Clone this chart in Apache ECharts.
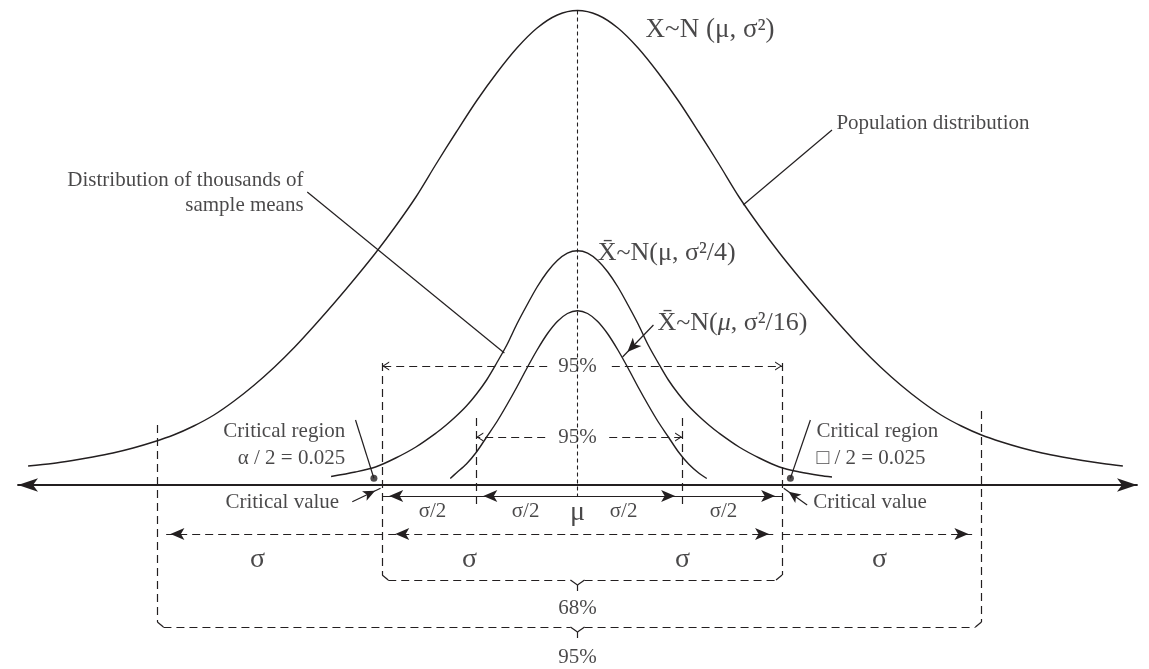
<!DOCTYPE html>
<html>
<head>
<meta charset="utf-8">
<title>Sampling distribution of the mean</title>
<script src="https://cdn.jsdelivr.net/npm/echarts@6/dist/echarts.min.js"></script>
<style>
  html, body { margin: 0; padding: 0; background: #fff; }
  #chart { width: 1149px; height: 669px; }
</style>
</head>
<body>
<div id="chart"></div>
<script>
// x in sigma units (mu = 0), y = curve height
var popX = [-2.72, -2.6, -2.5, -2.4, -2.3, -2.2, -2.1, -2.0, -1.9, -1.8, -1.7, -1.6, -1.5, -1.4, -1.3, -1.2,
            -1.1, -1.0, -0.9, -0.8, -0.7, -0.6, -0.5, -0.4, -0.3, -0.2, -0.1, 0,
            0.1, 0.2, 0.3, 0.4, 0.5, 0.6, 0.7, 0.8, 0.9, 1.0, 1.1, 1.2, 1.3, 1.4, 1.5, 1.6,
            1.7, 1.8, 1.9, 2.0, 2.1, 2.2, 2.3, 2.4, 2.5, 2.6, 2.7];
var popY = [0.19, 0.215, 0.245, 0.28, 0.32, 0.37, 0.43, 0.5, 0.59, 0.7, 0.84, 1.0, 1.18, 1.38, 1.6, 1.83,
            2.07, 2.32, 2.59, 2.88, 3.21, 3.53, 3.84, 4.12, 4.37, 4.57, 4.70, 4.745,
            4.70, 4.57, 4.37, 4.12, 3.84, 3.53, 3.21, 2.88, 2.59, 2.32, 2.07, 1.83, 1.6, 1.38, 1.18, 1.0,
            0.84, 0.7, 0.59, 0.5, 0.43, 0.37, 0.32, 0.28, 0.245, 0.215, 0.19];

// sample means, n = 4
var mean4X = [-1.22, -1.1, -1.0, -0.9, -0.8, -0.7, -0.65, -0.6, -0.55, -0.5, -0.45, -0.4, -0.35, -0.3,
              -0.25, -0.2, -0.15, -0.1, -0.05, 0, 0.05, 0.1, 0.15, 0.2, 0.25, 0.3, 0.35, 0.4, 0.45,
              0.5, 0.55, 0.6, 0.65, 0.7, 0.8, 0.9, 1.0, 1.1, 1.2, 1.26];
var mean4Y = [0.085, 0.13, 0.18, 0.27, 0.38, 0.52, 0.60, 0.69, 0.79, 0.91, 1.05, 1.22, 1.40, 1.61,
              1.80, 1.98, 2.13, 2.245, 2.319, 2.343, 2.319, 2.245, 2.13, 1.98, 1.80, 1.61, 1.40, 1.22, 1.05,
              0.91, 0.79, 0.69, 0.60, 0.52, 0.38, 0.27, 0.18, 0.13, 0.095, 0.08];

// sample means, n = 16
var mean16X = [-0.63, -0.6, -0.55, -0.5, -0.45, -0.4, -0.35, -0.3, -0.25, -0.2, -0.15, -0.1, -0.05, 0,
               0.05, 0.1, 0.15, 0.2, 0.25, 0.3, 0.35, 0.4, 0.45, 0.5, 0.55, 0.6, 0.64];
var mean16Y = [0.065, 0.12, 0.21, 0.33, 0.48, 0.63, 0.80, 0.98, 1.17, 1.35, 1.51, 1.635, 1.715, 1.743,
               1.715, 1.635, 1.51, 1.35, 1.17, 0.98, 0.80, 0.63, 0.48, 0.33, 0.21, 0.12, 0.065];

// cut points (sigma units)
var outer95 = [-2.08, 2.0];
var mid95 = [-0.967, 1.013];
var inner95 = [-0.501, 0.518];
var critValues = [-1.008, 1.054];

var sigmaLabels = ['σ', 'σ', 'σ', 'σ'];
var halfSigmaLabels = ['σ/2', 'σ/2', 'σ/2', 'σ/2'];
var pctLabels = ['95%', '95%', '68%', '95%'];

var INK = '#231f20';
var TEXT = '#1c1a1b';
var FONT = 'Liberation Serif';

function pairs(xs, ys) {
  return xs.map(function (x, i) { return [x, ys[i]]; });
}

// one straight segment for markLine
function seg(x1, y1, x2, y2, style, s1, s2) {
  var a = { coord: [x1, y1], lineStyle: style, symbol: 'none' };
  var b = { coord: [x2, y2], symbol: 'none' };
  if (s1) { a.symbol = s1.type; a.symbolSize = s1.size; a.symbolOffset = [0, s1.size[1] / 2]; }
  if (s2) { b.symbol = s2.type; b.symbolSize = s2.size; b.symbolOffset = [0, s2.size[1] / 2]; }
  return [a, b];
}

var dash = { color: INK, width: 1.2, type: [8, 5] };
var fine = { color: INK, width: 1.1, type: [4, 3] };
var solid = { color: INK, width: 1.2, type: 'solid' };
var arrowBig = { type: 'arrow', size: [9, 14] };
var arrowSmall = { type: 'arrow', size: [8, 12] };
var chevron = { type: 'path://M5,0 L10,10 L8.6,10 L5,2.6 L1.4,10 L0,10 Z', size: [9, 7] };

var peak = popY[popX.indexOf(0)];
var yHalf = -0.11, ySig = -0.49, yBrace68 = -0.95, yBrace95 = -1.42;
var r = 0.03, ry = 0.05;   // rounded brace corners

var lines = [
  // centre line
  seg(0, peak, 0, -0.12, fine),
  // cut-point verticals
  seg(outer95[0], 0.60, outer95[0], yBrace95 + ry, dash),
  seg(outer95[1], 0.74, outer95[1], yBrace95 + ry, dash),
  seg(mid95[0], 1.22, mid95[0], yBrace68 + ry, dash),
  seg(mid95[1], 1.22, mid95[1], yBrace68 + ry, dash),
  seg(inner95[0], 0.67, inner95[0], -0.2, dash),
  seg(inner95[1], 0.67, inner95[1], -0.2, dash),
  // braces
  seg(mid95[0], yBrace68 + ry, mid95[0] + r, yBrace68, solid),
  seg(mid95[1], yBrace68 + ry, mid95[1] - r, yBrace68, solid),
  seg(mid95[0] + r, yBrace68, -0.035, yBrace68, dash),
  seg(0.035, yBrace68, mid95[1] - r, yBrace68, dash),
  seg(-0.035, yBrace68, 0, yBrace68 - 0.05, solid),
  seg(0.035, yBrace68, 0, yBrace68 - 0.05, solid),
  seg(0, yBrace68 - 0.05, 0, yBrace68 - 0.11, solid),
  seg(outer95[0], yBrace95 + ry, outer95[0] + r, yBrace95, solid),
  seg(outer95[1], yBrace95 + ry, outer95[1] - r, yBrace95, solid),
  seg(outer95[0] + r, yBrace95, -0.035, yBrace95, dash),
  seg(0.035, yBrace95, outer95[1] - r, yBrace95, dash),
  seg(-0.035, yBrace95, 0, yBrace95 - 0.05, solid),
  seg(0.035, yBrace95, 0, yBrace95 - 0.05, solid),
  seg(0, yBrace95 - 0.05, 0, yBrace95 - 0.11, solid),
  // 95% ranges of the two sampling distributions
  seg(-0.15, 1.19, mid95[0], 1.19, dash, null, chevron),
  seg(0.17, 1.19, mid95[1], 1.19, dash, null, chevron),
  seg(-0.16, 0.48, inner95[0], 0.48, dash, null, chevron),
  seg(0.157, 0.48, inner95[1], 0.48, dash, null, chevron),
  // sigma/2 arrows
  seg(inner95[0], yHalf, mid95[0], yHalf, solid, null, arrowBig),
  seg(0, yHalf, inner95[0], yHalf, solid, null, arrowBig),
  seg(0, yHalf, inner95[1], yHalf, solid, null, arrowBig),
  seg(inner95[1], yHalf, mid95[1], yHalf, solid, null, arrowBig),
  // sigma arrows
  seg(mid95[0], ySig, outer95[0] + 0.03, ySig, dash, null, arrowBig),
  seg(mid95[0] + 0.03, ySig, mid95[1] - 0.03, ySig, dash, arrowBig, arrowBig),
  seg(mid95[1], ySig, outer95[1] - 0.03, ySig, dash, null, arrowBig),
  // leaders
  seg(1.26, 3.55, 0.82, 2.80, solid),
  seg(-1.338, 2.93, -0.362, 1.32, solid),
  seg(0.376, 1.60, 0.223, 1.28, solid, null, arrowBig),
  seg(-1.099, 0.65, critValues[0], 0.067, solid),
  seg(1.153, 0.65, critValues[1], 0.067, solid),
  seg(-1.115, -0.167, -0.975, -0.033, solid, null, arrowSmall),
  seg(1.137, -0.2, 1.021, -0.033, solid, null, arrowSmall)
];

function txt(x, y, text, size, align, extra) {
  var label = {
    show: true, position: 'inside', formatter: text, color: TEXT,
    fontFamily: FONT, fontSize: size, align: align || 'center', verticalAlign: 'middle'
  };
  if (extra) { for (var k in extra) label[k] = extra[k]; }
  return { value: [x, y], label: label };
}

var richStyles = {
  t: { fontFamily: FONT, fontSize: 26, color: TEXT },
  i: { fontFamily: FONT, fontSize: 26, color: TEXT, fontStyle: 'italic' }
};

var texts = [
  txt(0.337, 4.55, 'X~N (μ, σ²)', 27, 'left'),
  txt(0.1, 2.32, 'X\u0304~N(μ, σ²/4)', 26, 'left'),
  txt(0.396, 1.62, '{t|X\u0304~N(}{i|μ}{t|, σ²/16)}', 26, 'left', { rich: richStyles }),
  txt(1.282, 3.62, 'Population distribution', 21, 'left'),
  txt(-1.356, 2.92, 'Distribution of thousands of\nsample means', 21, 'right', { lineHeight: 25 }),
  txt(-1.15, 0.405, 'Critical region\nα / 2 = 0.025', 21, 'right', { lineHeight: 27 }),
  txt(-1.18, -0.17, 'Critical value', 21, 'right'),
  txt(1.183, 0.405, 'Critical region\n□ / 2 = 0.025', 21, 'left', { lineHeight: 27 }),
  txt(1.167, -0.17, 'Critical value', 21, 'left'),
  txt(0, 1.19, pctLabels[0], 21),
  txt(0, 0.48, pctLabels[1], 21),
  txt(0, -1.23, pctLabels[2], 21),
  txt(0, -1.72, pctLabels[3], 21),
  txt(0, -0.28, 'μ', 28)
];
[-0.718, -0.257, 0.228, 0.723].forEach(function (x, i) {
  texts.push(txt(x, -0.26, halfSigmaLabels[i], 21));
});
[-1.584, -0.535, 0.52, 1.495].forEach(function (x, i) {
  texts.push(txt(x, -0.75, sigmaLabels[i], 28));
});

var curveStyle = { color: INK, width: 1.4 };

var chart = echarts.init(document.getElementById('chart'));
var option = {
  animation: false,
  backgroundColor: '#fff',
  grid: { left: 18, right: 12, top: 0, bottom: 0 },
  xAxis: {
    type: 'value', min: -2.77, max: 2.77,
    axisLine: { show: true, onZero: true, symbol: ['arrow', 'arrow'], symbolSize: [10, 20],
                lineStyle: { color: INK, width: 1.8 } },
    axisTick: { show: false }, axisLabel: { show: false }, splitLine: { show: false }
  },
  yAxis: { type: 'value', min: -1.84, max: 4.85, show: false },
  series: [
    { name: 'population', type: 'line', data: pairs(popX, popY), smooth: 0.3,
      showSymbol: false, lineStyle: curveStyle, silent: true,
      markLine: { silent: true, animation: false, label: { show: false }, symbol: ['none', 'none'], data: lines } },
    { name: 'means n=4', type: 'line', data: pairs(mean4X, mean4Y), smooth: 0.3,
      showSymbol: false, lineStyle: curveStyle, silent: true },
    { name: 'means n=16', type: 'line', data: pairs(mean16X, mean16Y), smooth: 0.3,
      showSymbol: false, lineStyle: curveStyle, silent: true },
    { name: 'critical values', type: 'scatter', symbolSize: 7, itemStyle: { color: INK }, silent: true,
      data: [[critValues[0], 0.067], [critValues[1], 0.067]] },
    { name: 'text', type: 'scatter', symbolSize: 1, itemStyle: { color: 'rgba(0,0,0,0)' }, silent: true,
      data: texts }
  ]
};
chart.setOption(option);
</script>
</body>
</html>
